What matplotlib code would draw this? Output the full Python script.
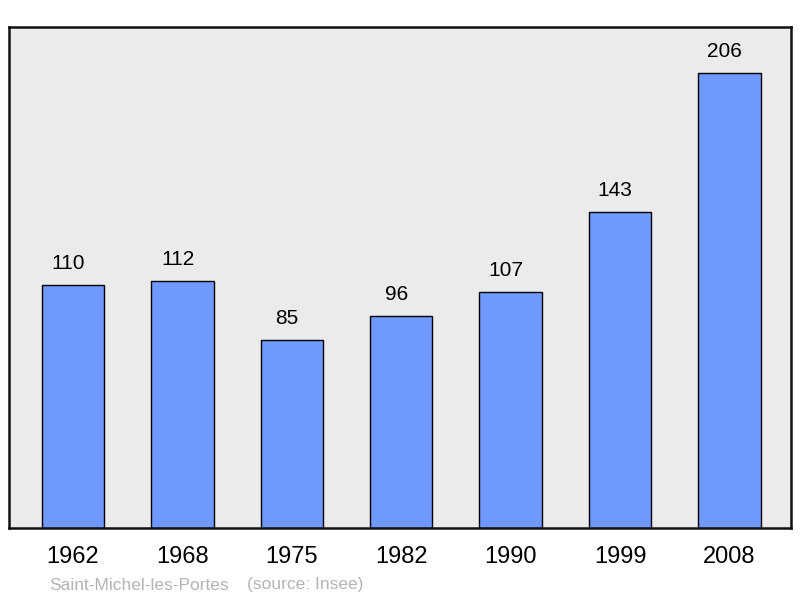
import matplotlib.pyplot as plt
import numpy as np

plt.rcParams['font.family'] = ['Liberation Sans', 'DejaVu Sans']

years = ['1962', '1968', '1975', '1982', '1990', '1999', '2008']
population = [110, 112, 85, 96, 107, 143, 206]

fig = plt.figure(figsize=(8, 5.98), dpi=100)
ax = fig.add_axes([9/800, 70/598, 782/800, 501/598])
ax.set_facecolor('#ebebeb')

x = np.arange(len(years))
ax.bar(x, population, width=0.57, color='#7099ff', edgecolor='black', linewidth=1.0, zorder=2)

# value labels sit a bit left of the bar centre in the original
for xi, v in zip(x, population):
    ax.annotate(str(v), (xi, v), xytext=(-3.5, 8.5), textcoords='offset points',
                ha='center', va='bottom', fontsize=15)

ax.set_xlim(-0.585, 6.562)
ax.set_ylim(0, 226.8)
ax.set_yticks([])
ax.set_xticks(x)
ax.set_xticklabels(years, fontsize=17)
ax.tick_params(axis='x', length=0, pad=13)
for s in ax.spines.values():
    s.set_linewidth(1.8)
    s.set_color('#111111')

fig.text(49/800, 1 - 585/598, 'Saint-Michel-les-Portes', color='#b4b4b4',
         fontsize=12.5, va='center', ha='left')
fig.text(247/800, 1 - 585/598, '(source: Insee)', color='#b4b4b4',
         fontsize=12.5, va='center', ha='left')

fig.savefig('out.png', dpi=100)
